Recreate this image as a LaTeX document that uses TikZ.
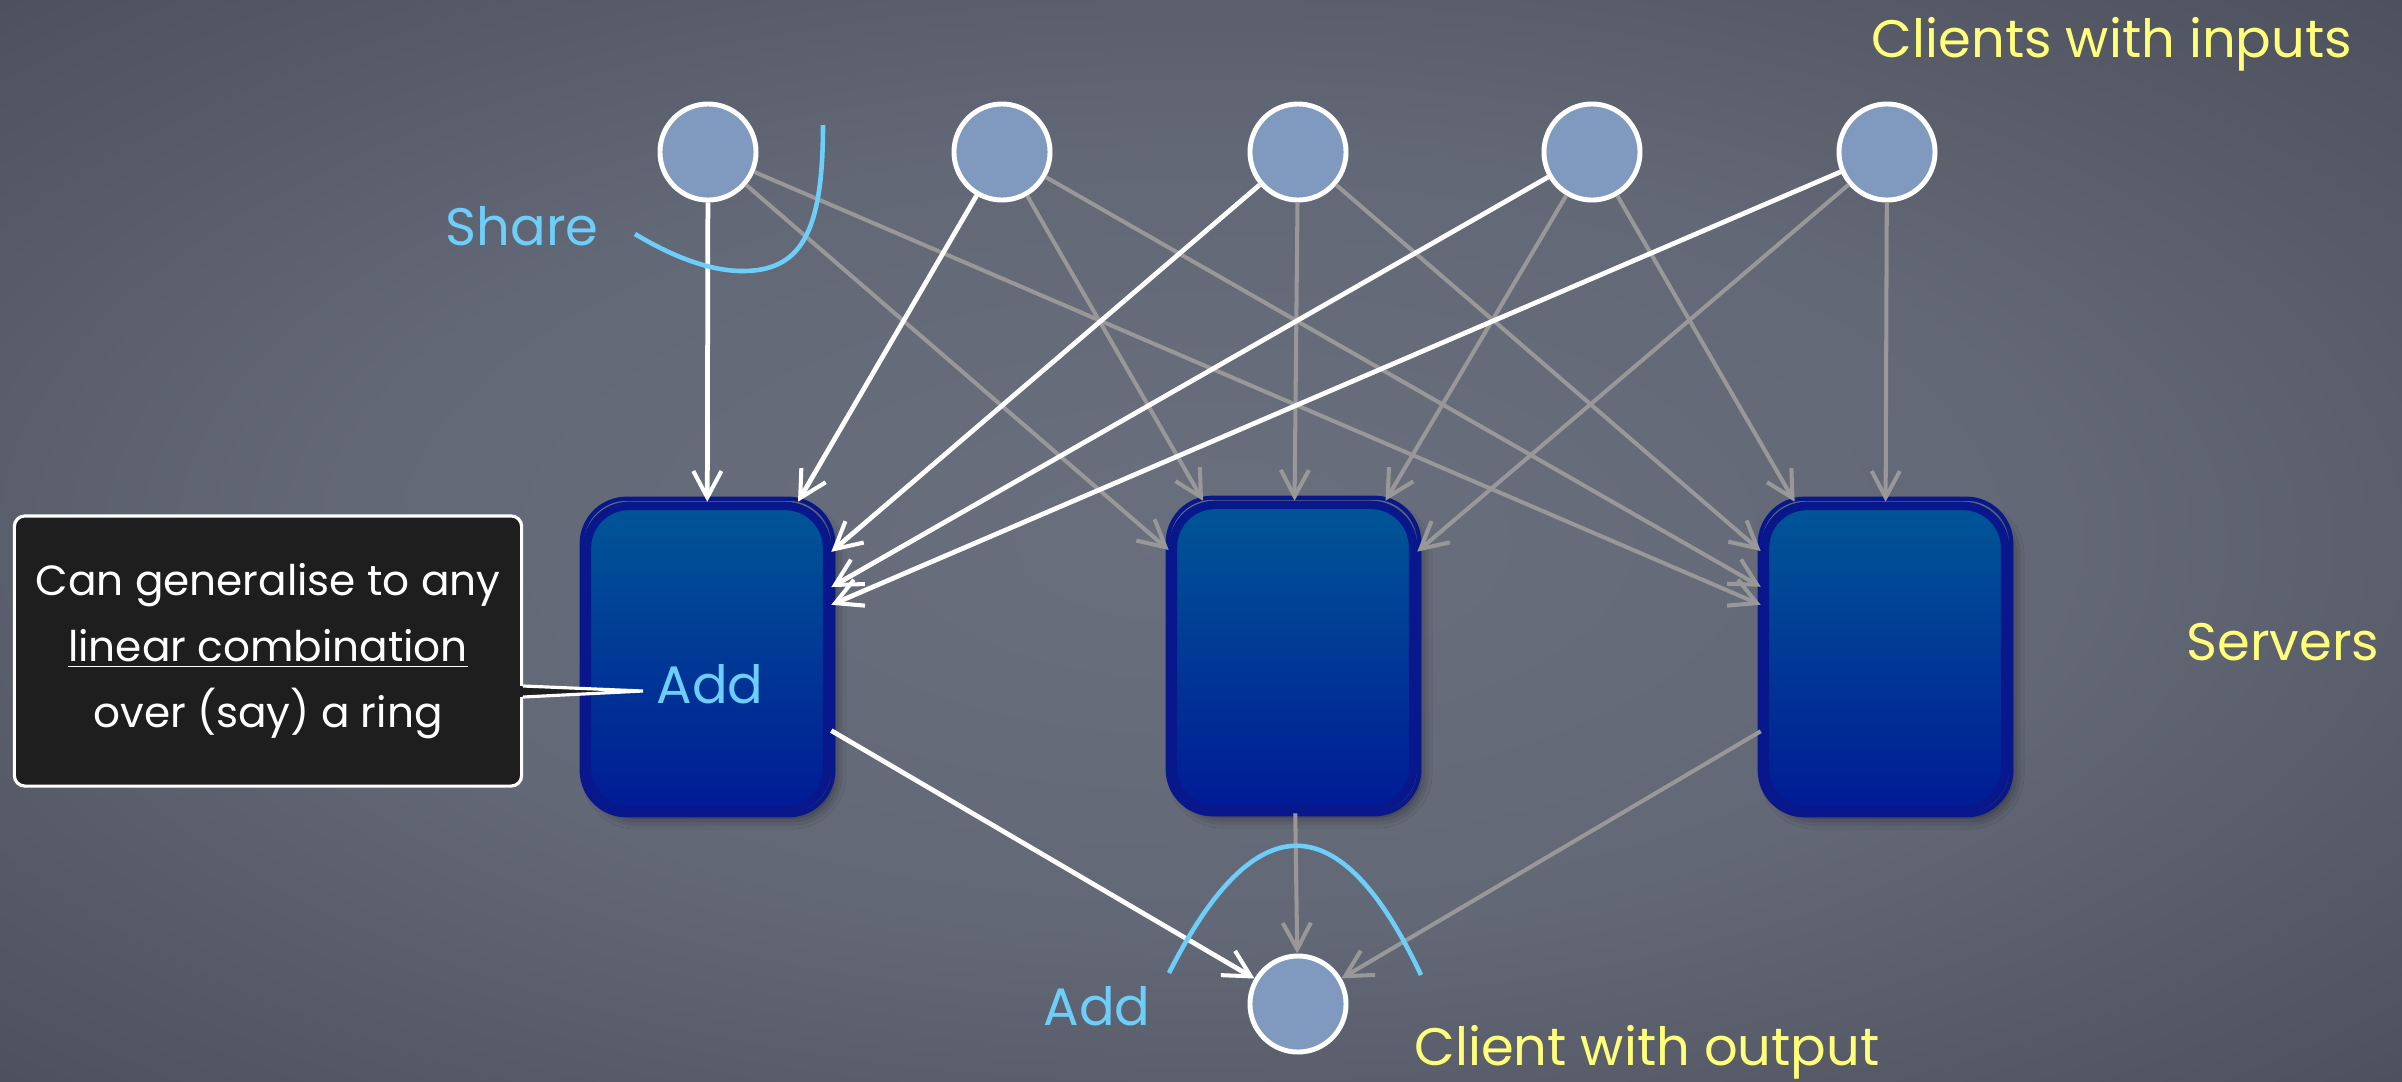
\documentclass[tikz,border=0pt]{standalone}
\usepackage{fontspec}
\setmainfont{Poppins}
\usetikzlibrary{arrows.meta,shadows.blur}

\definecolor{bgIn}{RGB}{106,111,126}
\definecolor{bgMid}{RGB}{99,104,118}
\definecolor{bgOut}{RGB}{74,77,89}
\definecolor{clientFill}{RGB}{128,153,190}
\definecolor{srvTop}{RGB}{0,86,150}
\definecolor{srvBot}{RGB}{0,27,150}
\definecolor{srvEdge}{RGB}{8,24,140}
\definecolor{edgeGrey}{RGB}{152,152,152}
\definecolor{chalkYellow}{RGB}{255,255,122}
\definecolor{chalkBlue}{RGB}{110,206,250}
\definecolor{noteFill}{RGB}{30,30,30}

\pgfdeclareradialshading{vignette}{\pgfpoint{0bp}{0bp}}{%
  color(0bp)=(bgIn); color(18bp)=(bgMid); color(38bp)=(bgOut); color(50bp)=(bgOut)}

\begin{document}
\begin{tikzpicture}[x=0.01cm, y=-0.01cm,
  client/.style={circle, draw=white, line width=1.4pt, fill=clientFill,
    minimum size=0.96cm, inner sep=0pt},
  server/.style={rectangle, rounded corners=0.42cm, draw=srvEdge, line width=2.4pt,
    top color=srvTop, bottom color=srvBot, minimum width=2.40cm, minimum height=3.04cm,
    blur shadow={shadow xshift=0.07cm, shadow yshift=-0.07cm, shadow blur radius=0.12cm,
      shadow opacity=55}},
  rough/.style={draw=srvEdge, line width=1.2pt, rounded corners=0.45cm},
  link/.style={-{Straight Barb[length=7.5pt,width=8pt,line width=1.15pt]}},
  glink/.style={link, edgeGrey, line width=1.15pt},
  wlink/.style={link, white, line width=1.35pt},
  yellowlabel/.style={text=chalkYellow, font=\fontsize{15}{18}\selectfont, anchor=base, inner sep=0pt},
  bluelabel/.style={text=chalkBlue, font=\fontsize{15}{18}\selectfont, anchor=base, inner sep=0pt},
  bluestroke/.style={draw=chalkBlue, line width=1.3pt},
  notebox/.style={rectangle, rounded corners=3pt, draw=white, line width=0.9pt, fill=noteFill,
    text=white, align=center, minimum width=5.07cm, minimum height=2.70cm,
    font=\fontsize{12}{18.8}\selectfont}
]
% chalkboard backdrop
\shade[shading=vignette] (0,0) rectangle (2402,1081);
\useasboundingbox (0,0) rectangle (2402,1081);

% clients holding inputs
\node[client] (c1) at (708,152) {};
\node[client] (c2) at (1002,152) {};
\node[client] (c3) at (1298,152) {};
\node[client] (c4) at (1592,152) {};
\node[client] (c5) at (1887,152) {};

% servers, each with a brushed second outline
\node[server] (s1) at (707,658) {};
\node[server] (s2) at (1293,657) {};
\node[server] (s3) at (1885,658) {};
\foreach \s in {s1,s2,s3}{
  \draw[rough] ([shift={(-1,-3)}]\s.north west) rectangle ([shift={(2,1)}]\s.south east);
}

% client receiving the output
\node[client] (out) at (1298,1004) {};

% shares travelling to the second and third server
\foreach \c in {c1,c2,c3,c4,c5}{
  \draw[glink] (\c) -- (s2);
  \draw[glink] (\c) -- (s3);
}
\draw[glink] (s2) -- (out);
\draw[glink] (s3) -- (out);

% shares travelling to the first server
\foreach \c in {c1,c2,c3,c4,c5}{
  \draw[wlink] (\c) -- (s1);
}
\draw[wlink] (s1) -- (out);

% labels
\node[yellowlabel] (lblIn) at (2112,57) {Clients with inputs};
\node[yellowlabel] (lblSrv) at (2283,660) {Servers};
\node[yellowlabel] (lblOut) at (1647,1065) {Client with output};
\node[bluelabel] (lblShare) at (522,245) {Share};
\node[bluelabel] (lblAdd) at (1097,1025) {Add};
\node[bluelabel] (addIn) at (710,703) {Add};

% chalk strokes
\draw[bluestroke] (823,125) .. controls (823,235) and (800,272) .. (740,271)
  .. controls (703,270) and (665,252) .. (635,234);
\draw[bluestroke] (1169,973) .. controls (1255,803) and (1340,803) .. (1421,975);

% remark box with its pointer
\node[notebox] (note) at (268,651) {Can generalise to any\\\underline{linear combination}\\over (say) a ring};
\coordinate (tip) at (643,691);
\path (note.east) ++(0,35) coordinate (pA) ++(0,11) coordinate (pB);
\fill[noteFill] ([xshift=-2pt]pA) -- (tip) -- ([xshift=-2pt]pB) -- cycle;
\draw[white, line width=0.9pt] (pA) -- (tip) -- (pB);
\end{tikzpicture}
\end{document}
